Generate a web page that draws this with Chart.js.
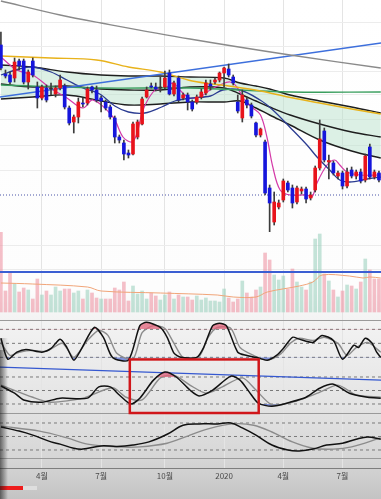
<!DOCTYPE html>
<html>
<head>
<meta charset="utf-8">
<script src="https://cdn.jsdelivr.net/npm/chart.js@4.4.1/dist/chart.umd.min.js"></script>
<style>
  html, body { margin: 0; padding: 0; background: #fff; }
  #wrap { width: 381px; height: 499px; }
</style>
</head>
<body>
<div id="wrap"><canvas id="myChart"></canvas></div>
<script>
// weekly candles (index 0 = last week of Jan 2019)
var xMin = -0.2, xMax = 83.45;
var tickWeeks = [9, 22, 36, 49, 62, 75];
var tickLabels = ['4월', '7월', '10월', '2020', '4월', '7월'];

var opens = [255,226,225,222,239,239,218,239,213,202, 212,211,206,212,214,192,178,183,197,197,
             213,210,202,198,193,182,163,157,147,146, 163,176,203,214,213,212,213,227,206,222,
             202,205,198,198,203,207,216,218,220,227, 231,223,198,182,200,195,177,165,158,112,
             78,93,100,117,112,98,109,111,102,110, 132,169,138,137,124,127,114,130,124,128,
             120,153,123,127];
var closes = [232,224,218,238,234,218,228,225,202,213, 200,211,212,220,193,177,183,198,196,211,
              210,200,199,192,183,163,160,146,145,176, 178,201,210,213,211,212,222,206,217,200,
              205,198,191,203,208,217,214,220,227,232, 225,217,189,205,195,184,165,171,107,97,
              98,97,119,110,97,112,111,101,105,132, 161,140,139.5,127,127,114,128,124,128,119,
              144,123,128,120];
var highs = [268,230,228,242,241,241,230,242,218,215, 215,217,214,225,216,194,185,202,202,213,
             214,214,204,200,195,184,165,160,150,178, 180,203,213,217,217,223,229,230,219,224,
             207,207,200,205,211,220,220,222,228,233, 236,225,205,210,203,197,178,172,160,115,
             108,100,121,119,115,114,113,113,108,134, 180,172,145,139,129,129,132,133,130,131,
             146,156,130,129];
var lows = [230,222,216,218,230,216,211,223,192,200, 198,205,203,210,191,175,167,177,193,195,
            207,198,188,190,181,157,157,140,142,145, 161,175,202,212,209,208,211,205,204,198,
            200,190,189,196,201,205,210,216,218,213, 223,215,187,178,192,182,163,163,105,67,
            75,91,98,108,92,96,106,97,100,108, 130,138,121,125,121,111,112,122,121,117,
            118,121,121,118];

var volume = [81,21,39,28,20,24,22,13,33,17, 21,17,25,21,23,23,19,21,13,22,
              19,14,13,13,13,24,22,30,11,26, 18,21,13,19,16,12,17,20,13,17,
              15,15,12,16,12,14,11,11,10,23, 14,10,13,31,19,15,22,25,59,52,
              37,32,36,23,43,30,25,22,30,73, 78,38,31,22,15,21,27,26,23,30,
              53,42,33,33];
var volDir = [1,1,1,-1,1,1,-1,1,1,-1, 1,-1,-1,-1,1,1,-1,-1,1,-1,
              1,1,-1,1,1,1,1,1,1,-1, -1,-1,-1,1,1,-1,-1,1,-1,1,
              -1,1,1,-1,-1,-1,-1,-1,-1,-1, 1,1,1,-1,1,1,1,-1,1,1,
              -1,-1,-1,1,1,-1,-1,1,-1,-1, -1,1,-1,1,-1,1,-1,1,-1,1,
              -1,1,1,1];
var volMA = [[0,29],[7,28],[19,25],[22,21],[35,19],[47.5,17],[51,15],[56,15],[58.5,20],[65.5,26],
             [68.5,30],[70.5,37],[76.5,36],[79.5,34],[81,35],[83.4,34]];
var volLevel = 40;

// moving averages [week, price]
var ma120 = [[0,299],[13,285],[22,277],[41.5,261],[63.5,245],[83.4,232]];
var ma60 = [[0,244],[11,242],[21,240],[28,233],[35,228],[42,219],[50,214],[57,209],[63,203],[70,197],[77,191],[83.4,186]];
var ma40 = [[0,215],[22,212],[41.5,212],[63.5,208],[83.4,208]];
var ma10 = [[0,225],[4,231],[7,233],[11,228],[14.5,220],[18,212],[21.7,206],[25,194],[28,188],[31.6,187],
            [35.3,193],[38.2,199],[42,202],[46,204],[48.7,210],[52.5,210],[56.9,200],[59.7,190],[63.4,173],
            [67.2,155],[69.4,143],[72.2,130],[74.4,120],[76.6,118],[80.4,121],[83.4,123]];
var ma5 = [[0,243],[3.5,230],[7,225],[10.8,212],[14.5,202],[18,192],[20.2,200],[24.6,183],[26.8,163],
           [28.8,158],[29.9,167],[31.2,190],[33.4,208],[35,212],[36.4,213],[37.8,217],[39.7,208],[41.5,202],
           [43.7,203],[45.9,210],[48.1,215],[50.3,218],[51.8,213],[53.5,200],[55.3,192],[57,185],[58.4,163],
           [59.7,133],[61.3,110],[63.5,105],[67.2,105],[68.3,103],[69.4,117],[71.6,135],[73.3,140],
           [74.4,135],[76,128],[78.8,125],[83.4,125]];
var bandX = [0,7,14.5,22,28,35,41.5,49,52.5,56,59,63.5,70,77,83.4];
var bandUpper = [235,233,228,225,224,224,223,222,217,214,211,205,199,193,187];
var bandMid = [216,213,214,211,210,210,213,212,206,199,193,185,176,168,163];
var bandLower = [201,203,205,199,195,196,198,198,199,192,185,175,160,149,142];
var trendMain = [203, 257];
var supportLevel = 105;

// oscillators [week, value]
var osc1Fast = [[0,61],[1.5,16],[3.5,31],[5.5,37],[9,31],[11,39],[13,59],[14.5,41],[16,14],[17.5,35],
                [20.5,84],[22.5,63],[24.5,20],[28,14],[30.5,88],[32,95],[35,84],[36.5,63],[38,29],[39.5,20],
                [43,20],[44.5,41],[46.5,88],[48,93],[49.5,88],[52,31],[54,24],[56,20],[58.5,14],[60.5,24],
                [62,39],[64,63],[65.5,59],[68.5,52],[70.5,67],[73,56],[75,16],[77.5,46],[78.5,41],[80,61],
                [81.5,50],[82.5,31],[83.4,20]];
var osc1Slow = [[0,52],[2,24],[4,31],[7,35],[10,33],[13.5,50],[16,20],[19,56],[21.5,78],[23.5,67],
                [25.5,28],[29,16],[31,73],[33.5,88],[36,82],[38,50],[40,20],[43.5,22],[45.5,63],[47.5,84],
                [50.5,82],[52.5,41],[55.5,24],[58.5,14],[61.5,28],[63.5,50],[65.5,61],[68.5,56],[71,63],
                [74,50],[76,24],[78,41],[80.5,52],[83.4,31]];
var osc2Fast = [[0,60],[3,44],[5,29],[9,24],[13,33],[19,33],[21.5,58],[24,58],[26,40],[28.5,20],[30.5,33],
                [33.5,73],[36,91],[38.5,80],[41.5,51],[43.5,38],[46.5,51],[50.5,82],[52.5,73],[54.5,47],
                [56.5,22],[59.5,15],[63.5,24],[67,35],[70,55],[73,64],[76.5,44],[80.5,35],[83.4,33]];
var osc2Slow = [[0,62],[7,35],[11,24],[18,33],[24.5,56],[27.5,35],[31,29],[35,78],[38,84],[41.5,62],
                [45,44],[48,55],[53,78],[56,51],[59.5,18],[64,24],[69.5,44],[74,62],[78,40],[83.4,35]];
var osc2Trend = [102, 73];
var osc3Fast = [[0,71],[4,62],[7,53],[11,38],[13,33],[16,24],[18,22],[22,29],[25.5,28],[29,31],
                [32.5,38],[36.5,55],[40,75],[43.5,78],[47.5,78],[50.5,80],[53,69],[56,53],[59.5,31],
                [63,20],[65.5,18],[68.5,22],[71.5,31],[75,35],[78,44],[80.5,49],[83.4,44]];
var osc3Slow = [[0,73],[8.5,62],[14.5,47],[19,33],[25.5,27],[30.5,27],[36.5,35],[41,51],[45.5,67],
                [51,78],[55.5,75],[59.5,60],[64,38],[68.5,24],[73,22],[77,27],[83.4,47]];
var oscLevels = [80, 50, 20];

// highlighted area (weeks, osc2 values)
var boxWeeks = [28.3, 56.6];
var boxValues = [119, 0];

function pts(list) { return list.map(function (p) { return {x: p[0], y: p[1]}; }); }
function zip(xs, ys) { return xs.map(function (x, i) { return {x: x, y: ys[i]}; }); }
function flat(v) { return [{x: xMin, y: v}, {x: xMax, y: v}]; }

var weeks = opens.map(function (_, i) { return i; });
var bodyColors = weeks.map(function (i) {
    if (closes[i] > opens[i]) return '#e8131b';
    if (closes[i] < opens[i]) return '#1616dc';
    return '#333333';
});

var datasets = [];
function addLine(axis, data, color, width, extra) {
    var d = {
        type: 'line', yAxisID: axis, data: data, borderColor: color, borderWidth: width,
        pointRadius: 0, tension: 0.35, fill: false, order: 2
    };
    for (var k in extra) d[k] = extra[k];
    datasets.push(d);
    return datasets.length - 1;
}

// candles
datasets.push({
    type: 'bar', yAxisID: 'y', order: 0, grouped: false, barThickness: 3, minBarLength: 1,
    data: weeks.map(function (i) { return {x: i, y: [opens[i], closes[i]]}; }),
    backgroundColor: bodyColors
});
datasets.push({
    type: 'bar', yAxisID: 'y', order: 1, grouped: false, barThickness: 1,
    data: weeks.map(function (i) { return {x: i, y: [lows[i], highs[i]]}; }),
    backgroundColor: '#3c3c3c'
});

// bollinger band
var lowIdx = addLine('y', zip(bandX, bandLower), '#1e1e1e', 1.4, {order: 9});
addLine('y', zip(bandX, bandMid), '#1e1e1e', 1.4, {order: 9});
addLine('y', zip(bandX, bandUpper), '#1e1e1e', 1.4, {order: 9, fill: {target: lowIdx, above: 'rgba(186,226,204,0.5)', below: 'rgba(186,226,204,0.5)'}});

addLine('y', pts(ma120), '#8a8a8a', 1.3, {});
addLine('y', [{x: xMin, y: trendMain[0]}, {x: xMax, y: trendMain[1]}], '#3d6fdc', 1.3, {tension: 0});
addLine('y', pts(ma60), '#e8b21a', 1.4, {});
addLine('y', pts(ma40), '#3a9e5e', 1.4, {});
addLine('y', pts(ma10), '#2b3c92', 1.3, {});
addLine('y', pts(ma5), '#d43aa8', 1.2, {});
addLine('y', flat(supportLevel), '#4a55a8', 1, {borderDash: [1, 2], tension: 0});

// volume
datasets.push({
    type: 'bar', yAxisID: 'vol', order: 5, grouped: false, barThickness: 3,
    data: weeks.map(function (i) { return {x: i, y: volume[i]}; }),
    backgroundColor: volDir.map(function (d) { return d > 0 ? 'rgba(238,150,165,0.6)' : 'rgba(150,205,185,0.55)'; })
});
addLine('vol', pts(volMA), '#f1a579', 1, {});
addLine('vol', flat(volLevel), '#3b5ed2', 2, {tension: 0});

// oscillator levels
oscLevels.forEach(function (v) {
    ['osc1', 'osc2', 'osc3'].forEach(function (axis) {
        addLine(axis, flat(v), '#7a7a7a', 1, {borderDash: [3, 3], tension: 0, order: 4});
    });
});

var hot = 'rgba(226,98,122,0.75)', cold = 'rgba(84,108,212,0.7)';
function addOsc(axis, fast, slow) {
    addLine(axis, pts(slow), '#8c8c8c', 1.4, {tension: 0.25, order: 3});
    addLine(axis, pts(fast), '#111111', 1.5, {tension: 0.25, fill: {target: {value: 80}, above: hot, below: 'rgba(0,0,0,0)'}});
    addLine(axis, pts(fast), 'rgba(0,0,0,0)', 0, {tension: 0.25, order: 3, fill: {target: {value: 20}, above: 'rgba(0,0,0,0)', below: cold}});
}
addOsc('osc1', osc1Fast, osc1Slow);
addOsc('osc2', osc2Fast, osc2Slow);
addLine('osc2', [{x: xMin, y: osc2Trend[0]}, {x: xMax, y: osc2Trend[1]}], '#3558d0', 1.3, {tension: 0});
addLine('osc3', pts(osc3Slow), '#8c8c8c', 1.4, {tension: 0.35, order: 3});
addLine('osc3', pts(osc3Fast), '#111111', 1.5, {tension: 0.35});

function panel(weight, min, max, lines, color) {
    return {
        type: 'linear', position: 'right', stack: 'panels', weight: weight,
        stackWeight: [232, 82, 48, 51, 55][weight - 1],
        min: min, max: max,
        ticks: {display: false}, border: {display: false},
        grid: {drawTicks: false, color: color, lineWidth: 1},
        afterBuildTicks: function (s) { s.ticks = lines.map(function (v) { return {value: v}; }); }
    };
}

var backdrop = {
    id: 'backdrop',
    beforeDraw: function (chart) {
        var c = chart.ctx, w = chart.width, h = chart.height;
        var g = c.createLinearGradient(0, 0, 0, h);
        g.addColorStop(0, '#ffffff');
        g.addColorStop(0.58, '#fdfdfd');
        g.addColorStop(0.64, '#f3f3f3');
        g.addColorStop(0.8, '#e5e5e5');
        g.addColorStop(0.92, '#d6d6d6');
        g.addColorStop(0.97, '#cbcbcb');
        g.addColorStop(1, '#c3c3c3');
        c.save();
        c.fillStyle = g;
        c.fillRect(0, 0, w, h);
        c.restore();
    },
    afterDraw: function (chart) {
        var c = chart.ctx, xs = chart.scales.x, ys = chart.scales.osc2;
        var x0 = xs.getPixelForValue(boxWeeks[0]), x1 = xs.getPixelForValue(boxWeeks[1]);
        var y0 = ys.getPixelForValue(boxValues[0]), y1 = ys.getPixelForValue(boxValues[1]);
        c.save();
        c.strokeStyle = '#d0161a';
        c.lineWidth = 2.5;
        c.strokeRect(x0, y0, x1 - x0, y1 - y0);
        // bottom progress strip
        c.fillStyle = '#ee1c1c';
        c.fillRect(0, 486, 23, 4);
        c.fillStyle = '#dedede';
        c.fillRect(23, 486, 14, 4);
        // left edge shade
        var s = c.createLinearGradient(0, 0, 8, 0);
        s.addColorStop(0, 'rgba(20,20,20,0.6)');
        s.addColorStop(1, 'rgba(20,20,20,0)');
        c.fillStyle = s;
        c.globalAlpha = 0.5;
        c.fillRect(0, 338, 8, 12);
        c.globalAlpha = 1;
        c.fillRect(0, 350, 8, 149);
        c.restore();
    }
};

var ctx = document.getElementById('myChart').getContext('2d');
var myChart = new Chart(ctx, {
    type: 'bar',
    data: {datasets: datasets},
    options: {
        responsive: true,
        maintainAspectRatio: false,
        animation: false,
        layout: {autoPadding: false, padding: {left: 0, right: 0, top: 0, bottom: 14.4}},
        plugins: {legend: {display: false}, tooltip: {enabled: false}},
        scales: {
            x: {
                type: 'linear', min: xMin, max: xMax, offset: false,
                grid: {drawTicks: false, offset: false, color: '#e4e4e4'},
                border: {display: true, color: '#7e7e7e'},
                afterBuildTicks: function (s) { s.ticks = tickWeeks.map(function (v) { return {value: v}; }); },
                ticks: {
                    autoSkip: false, maxRotation: 0, padding: 3.5, color: '#4a4a4a',
                    font: {family: "'Noto Sans CJK KR', 'Noto Sans', sans-serif", size: 8},
                    callback: function (v) { return tickLabels[tickWeeks.indexOf(v)]; }
                }
            },
            y: panel(1, 68, 300, [278, 254, 229, 205, 180, 155, 130], '#ececec'),
            vol: panel(2, -2, 80, [67, 43], '#ececec'),
            osc1: panel(3, 10, 112.9, [100], '#9a9a9a'),
            osc2: panel(4, 0, 113.3, [0], '#9a9a9a'),
            osc3: panel(5, -20, 102.2, [100, 0], '#9a9a9a')
        }
    },
    plugins: [backdrop]
});
</script>
</body>
</html>
